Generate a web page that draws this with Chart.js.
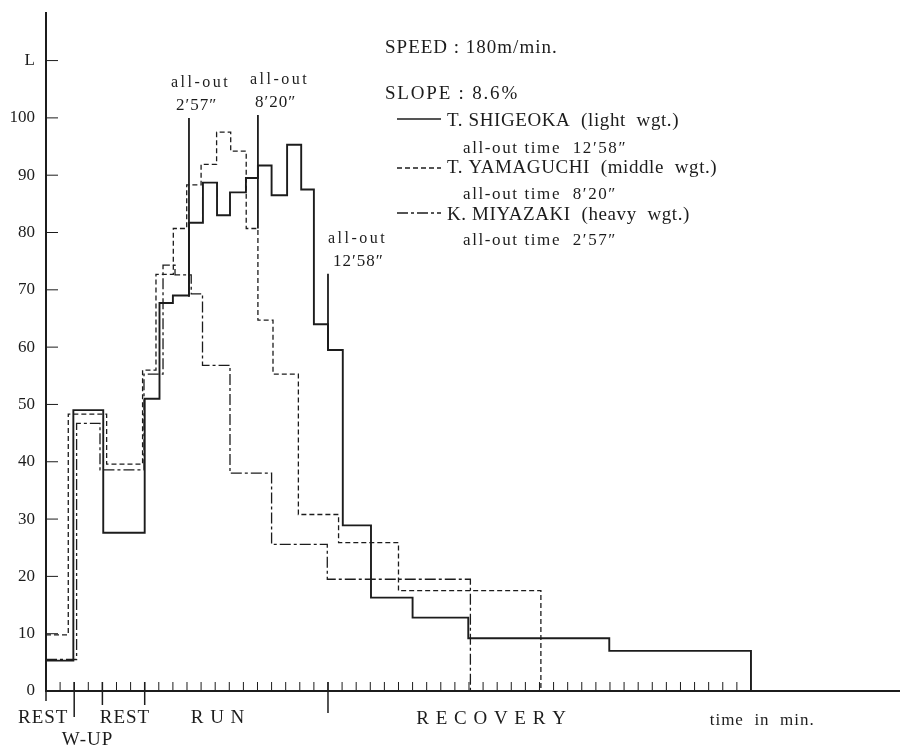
<!DOCTYPE html>
<html>
<head>
<meta charset="utf-8">
<title>Oxygen intake - run at 180 m/min</title>
<script src="https://cdn.jsdelivr.net/npm/chart.js@4.4.1/dist/chart.umd.min.js"></script>
<style>
  html, body { margin: 0; padding: 0; background: #fff; }
  #wrap { width: 900px; height: 748px; }
</style>
</head>
<body>
<div id="wrap"><canvas id="myChart" width="900" height="748"></canvas></div>
<script>
// minutes from the start of the first rest, values in L
const shigeokaTime = [0, 1.94, 4.06, 7.0, 8.05, 9.0, 10.14, 11.13, 12.13, 13.05, 14.18, 15.03, 16.0, 17.1, 18.1, 19.0, 20.0, 21.05, 23.05, 26.0, 29.95, 39.95, 50.0];
const shigeokaVal  = [5.3, 49, 27.6, 51, 67.7, 69, 81.7, 88.7, 83, 87, 89.5, 91.7, 86.5, 95.3, 87.5, 64, 59.5, 28.9, 16.3, 12.8, 9.2, 7.0, 0];

const yamaguchiTime = [0, 1.58, 4.3, 6.85, 7.8, 9.03, 9.98, 11.0, 12.1, 13.1, 14.2, 15.03, 16.1, 17.9, 20.75, 25.0, 35.1];
const yamaguchiVal  = [9.8, 48.3, 39.6, 56, 72.7, 80.7, 88.3, 91.9, 97.5, 94.2, 80.7, 64.7, 55.3, 30.8, 25.9, 17.5, 0];

const miyazakiTime = [0, 2.17, 3.83, 6.95, 8.3, 9.15, 10.3, 11.1, 13.05, 16.0, 19.95, 30.1];
const miyazakiVal  = [5.5, 46.7, 38.6, 55.3, 74.3, 72.6, 69.3, 56.8, 38.0, 25.6, 19.5, 0];

// vertical "all-out" marks
const allOutTime = [10.14, 15.03, 20.0];
const allOutLow  = [68.8, 80.7, 59.5];
const allOutHigh = [100, 100.5, 72.8];
const allOutText = ['2′57″', '8′20″', '12′58″'];

const yTicks = [0, 10, 20, 30, 40, 50, 60, 70, 80, 90, 100, 110];
const phaseNames = ['REST', 'W-UP', 'REST', 'R U N', 'R E C O V E R Y', 'time  in  min.'];
const phaseBounds = [0, 2, 4, 7, 20];
const lastMinute = 49;

const runners = ['T. SHIGEOKA  (light  wgt.)', 'T. YAMAGUCHI  (middle  wgt.)', 'K. MIYAZAKI  (heavy  wgt.)'];
const runnerAllOut = ['all-out time  12′58″', 'all-out time  8′20″', 'all-out time  2′57″'];

const ink = '#1c1c1c';
const serif = "'Liberation Serif', 'Times New Roman', serif";
const dashes = [[], [5, 3], [11, 3, 3, 3]];

function pts(t, v) {
    return t.map((x, i) => ({x: x, y: v[i]}));
}

function serie(label, t, v, i, w) {
    return {
        label: label,
        data: pts(t, v),
        stepped: 'before',
        borderColor: ink,
        borderWidth: w,
        borderDash: dashes[i],
        pointRadius: 0,
        fill: false
    };
}

const datasets = [
    serie(runners[0], shigeokaTime, shigeokaVal, 0, 1.9),
    serie(runners[1], yamaguchiTime, yamaguchiVal, 1, 1.3),
    serie(runners[2], miyazakiTime, miyazakiVal, 2, 1.3)
];
allOutTime.forEach((t, i) => {
    datasets.push({
        label: 'all-out ' + allOutText[i],
        data: [{x: t, y: allOutLow[i]}, {x: t, y: allOutHigh[i]}],
        borderColor: ink,
        borderWidth: 1.8,
        pointRadius: 0,
        fill: false
    });
});

function txt(ctx, s, x, y, size, ls, align) {
    ctx.font = size + 'px ' + serif;
    ctx.letterSpacing = ls + 'px';
    ctx.textAlign = align || 'left';
    ctx.fillText(s, x, y);
}

function seg(ctx, x1, y1, x2, y2) {
    ctx.beginPath();
    ctx.moveTo(x1, y1);
    ctx.lineTo(x2, y2);
    ctx.stroke();
}

const decor = {
    id: 'decor',
    afterDraw(chart) {
        const ctx = chart.ctx;
        const a = chart.chartArea;
        const x = chart.scales.x;
        const y = chart.scales.y;
        ctx.save();
        ctx.strokeStyle = ink;
        ctx.fillStyle = ink;
        ctx.textBaseline = 'alphabetic';

        // ticks drawn inside the plot, like on the paper
        ctx.lineWidth = 1;
        yTicks.forEach(v => {
            if (v === 0) return;
            const py = y.getPixelForValue(v);
            seg(ctx, a.left, py, a.left + 12, py);
        });
        for (let m = 1; m <= lastMinute; m++) {
            const px = x.getPixelForValue(m);
            seg(ctx, px, a.bottom, px, a.bottom - 9);
        }
        const drop = [10, 26, 14, 14, 22];
        ctx.lineWidth = 1.5;
        phaseBounds.forEach((m, i) => {
            const px = x.getPixelForValue(m);
            seg(ctx, px, a.bottom - 9, px, a.bottom + drop[i]);
        });

        // phase names under the axis
        const at = [-0.2, 2.95, 5.6, 12.2, 31.6, 50.8];
        const base = [723, 745, 723, 723, 724, 725];
        phaseNames.forEach((s, i) => {
            const size = i === 5 ? 17 : 19;
            txt(ctx, s, x.getPixelForValue(at[i]), base[i], size, 1, 'center');
        });

        // all-out labels
        const dx = [-18, -8, 0];
        allOutTime.forEach((t, i) => {
            const px = x.getPixelForValue(t) + dx[i];
            const top = y.getPixelForValue(allOutHigh[i]);
            txt(ctx, 'all-out', px, top - 31, 16, 2.5);
            txt(ctx, allOutText[i], px + 5, top - 8, 17, 1);
        });

        // header and key
        txt(ctx, 'SPEED : 180m/min.', 385, 53, 19, 1);
        txt(ctx, 'SLOPE : 8.6%', 385, 99, 19, 1.8);
        const keyY = [119, 168, 213];
        const nameY = [126, 173, 220];
        const timeY = [153, 199, 245];
        runners.forEach((s, i) => {
            ctx.lineWidth = i === 0 ? 1.5 : 1.3;
            ctx.setLineDash(dashes[i]);
            seg(ctx, 397, keyY[i], 441, keyY[i]);
            ctx.setLineDash([]);
            txt(ctx, s, 447, nameY[i], 19, 0.6);
            txt(ctx, runnerAllOut[i], 463, timeY[i], 17, 1.6);
        });
        ctx.restore();
    }
};

const ctx = document.getElementById('myChart').getContext('2d');
const chart = new Chart(ctx, {
    type: 'line',
    data: { datasets: datasets },
    options: {
        responsive: false,
        animation: false,
        devicePixelRatio: 1,
        layout: { padding: { top: 13, right: 0, left: 0, bottom: 0 } },
        plugins: {
            legend: { display: false },
            tooltip: { enabled: false }
        },
        scales: {
            x: {
                type: 'linear',
                min: 0,
                max: 60.57,
                afterFit: s => { s.height = 57; s.paddingLeft = 0; s.paddingRight = 0; },
                grid: { display: false, drawTicks: false },
                border: { display: true, color: ink, width: 2 },
                ticks: { display: false }
            },
            y: {
                min: 0,
                max: 118.3,
                afterFit: s => { s.width = 46; s.paddingTop = 0; s.paddingBottom = 0; },
                grid: { display: false, drawTicks: false },
                border: { display: true, color: ink, width: 2 },
                ticks: {
                    stepSize: 10,
                    includeBounds: false,
                    padding: 11,
                    color: ink,
                    font: { family: serif, size: 17 },
                    callback: v => (v === 110 ? 'L' : v)
                }
            }
        }
    },
    plugins: [decor]
});
</script>
</body>
</html>
